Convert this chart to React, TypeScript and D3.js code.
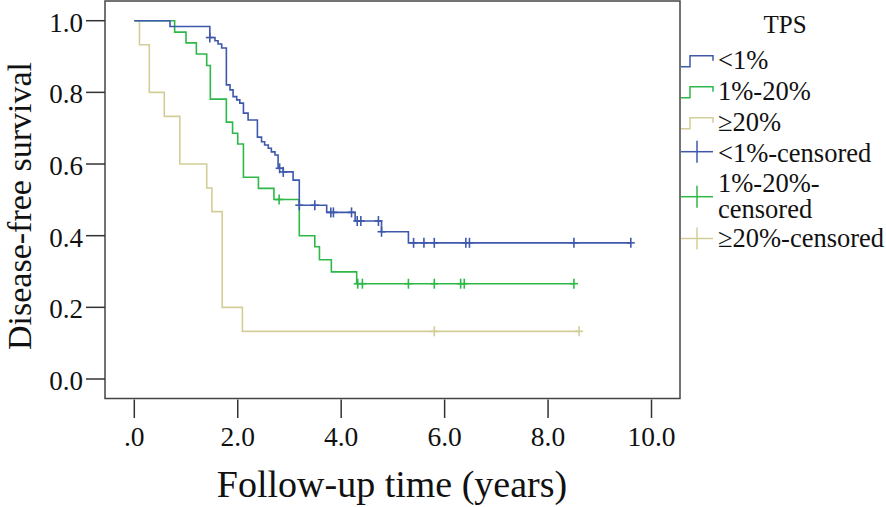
import React from "react";
import * as d3 from "d3";

const W = 886;
const H = 507;

// Kaplan-Meier steps: [time (years), survival after event]
const blueSteps: [number, number][] = [
  [0.69, 0.984], [1.46, 0.953], [1.56, 0.944], [1.62, 0.935], [1.69, 0.924],
  [1.78, 0.821], [1.85, 0.807], [1.91, 0.788], [1.98, 0.779], [2.04, 0.77],
  [2.11, 0.742], [2.2, 0.723], [2.38, 0.675], [2.46, 0.662], [2.52, 0.653],
  [2.59, 0.644], [2.65, 0.634], [2.72, 0.625], [2.78, 0.588], [2.88, 0.578],
  [3.07, 0.555], [3.19, 0.485], [3.72, 0.465], [4.27, 0.441], [4.78, 0.411],
  [5.3, 0.38],
];
const blueEnd = 9.6;
const blueCensored = [1.46, 2.81, 2.88, 3.19, 3.49, 3.8, 3.85, 4.2, 4.31, 4.38, 4.72, 4.78, 5.4, 5.6, 5.8, 6.41, 6.48, 8.5, 9.6];

const greenSteps: [number, number][] = [
  [0.78, 0.968], [1.0, 0.938], [1.2, 0.907], [1.4, 0.875], [1.47, 0.781],
  [1.78, 0.717], [1.9, 0.686], [2.0, 0.656], [2.11, 0.563], [2.4, 0.532],
  [2.7, 0.501], [3.19, 0.4], [3.49, 0.369], [3.58, 0.333], [3.81, 0.299],
  [4.3, 0.266],
];
const greenEnd = 8.5;
const greenCensored = [2.8, 4.32, 4.41, 5.3, 5.8, 6.31, 6.38, 8.5];

const yellowSteps: [number, number][] = [
  [0.1, 0.933], [0.29, 0.8], [0.58, 0.733], [0.88, 0.6], [1.4, 0.533],
  [1.5, 0.467], [1.7, 0.2], [2.09, 0.133],
];
const yellowEnd = 8.6;
const yellowCensored = [5.8, 8.6];

const xTicks = [0, 2, 4, 6, 8, 10];
const xTickLabels = [".0", "2.0", "4.0", "6.0", "8.0", "10.0"];
const yTicks = [0, 0.2, 0.4, 0.6, 0.8, 1.0];
const yTickLabels = ["0.0", "0.2", "0.4", "0.6", "0.8", "1.0"];

const legendTitle = "TPS";
const legendLabels = ["<1%", "1%-20%", "≥20%", "<1%-censored", "1%-20%-censored", "≥20%-censored"];

const BLUE = "#3e58ac";
const GREEN = "#2eb848";
const TAN = "#d3ce97";
const FONT = "'Liberation Serif', 'Times New Roman', serif";

export default function App() {
  const x = d3.scaleLinear().domain([0, 10]).range([134.3, 651.5]);
  const y = d3.scaleLinear().domain([0, 1]).range([379, 20.7]);

  const frame = { left: 105, top: 1, right: 680, bottom: 398.5 };

  const line = d3
    .line<[number, number]>()
    .x((d) => x(d[0]))
    .y((d) => y(d[1]))
    .curve(d3.curveStepAfter);

  const series = [
    { steps: blueSteps, end: blueEnd, cens: blueCensored, color: BLUE },
    { steps: greenSteps, end: greenEnd, cens: greenCensored, color: GREEN },
    { steps: yellowSteps, end: yellowEnd, cens: yellowCensored, color: TAN },
  ];

  const survAt = (steps: [number, number][], t: number) => {
    let s = 1;
    for (const [tt, ss] of steps) if (tt <= t + 1e-9) s = ss;
    return s;
  };

  const drawOrder = [2, 1, 0];
  const LFS = 26.5;

  return (
    <svg
      width={W}
      height={H}
      style={{ position: "absolute", left: 0, top: 0, background: "#fff" }}
      fontFamily={FONT}
    >
      <rect x={0} y={0} width={W} height={H} fill="#fff" />
      <rect
        x={frame.left}
        y={frame.top}
        width={frame.right - frame.left}
        height={frame.bottom - frame.top}
        fill="#fff"
        stroke="#444"
        strokeWidth={1.5}
      />
      {yTicks.map((v, i) => (
        <g key={"y" + i}>
          <line x1={86} x2={frame.left} y1={y(v)} y2={y(v)} stroke="#333" strokeWidth={1.5} />
          <text x={83} y={y(v) + 11} fontSize={27} textAnchor="end" fill="#111">
            {yTickLabels[i]}
          </text>
        </g>
      ))}
      {xTicks.map((v, i) => (
        <g key={"x" + i}>
          <line x1={x(v)} x2={x(v)} y1={frame.bottom + 1} y2={418} stroke="#333" strokeWidth={1.5} />
          <text x={x(v)} y={446} fontSize={27.5} textAnchor="middle" fill="#111">
            {xTickLabels[i]}
          </text>
        </g>
      ))}
      <text x={392} y={497} fontSize={38} textAnchor="middle" fill="#111">
        Follow-up time (years)
      </text>
      <text
        transform={`translate(31,206) rotate(-90)`}
        fontSize={34}
        textAnchor="middle"
        fill="#111"
      >
        Disease-free survival
      </text>
      {drawOrder.map((k) => {
        const s = series[k];
        const last = s.steps[s.steps.length - 1][1];
        const pts: [number, number][] = [[0, 1], ...s.steps, [s.end, last]];
        return (
          <g key={"s" + k}>
            <path d={line(pts) || ""} fill="none" stroke={s.color} strokeWidth={1.6} />
            {s.cens.map((t, j) => {
              const cx = x(t);
              const cy = y(survAt(s.steps, t));
              return (
                <g key={j} stroke={s.color} strokeWidth={1.6}>
                  <line x1={cx - 4} x2={cx + 4} y1={cy} y2={cy} />
                  <line x1={cx} x2={cx} y1={cy - 5} y2={cy + 5} />
                </g>
              );
            })}
          </g>
        );
      })}
      <text x={785} y={33} fontSize={25} textAnchor="middle" fill="#111">
        {legendTitle}
      </text>
      {[BLUE, GREEN, TAN].map((c, i) => {
        const low = 66.7 + i * 31;
        const high = low - 11;
        return (
          <g key={"ls" + i}>
            <path
              d={`M681,${low} H690 V${high} H713 V${high + 5}`}
              fill="none"
              stroke={c}
              strokeWidth={1.5}
            />
            <text x={718} y={low + 2} fontSize={LFS} fill="#111">
              {legendLabels[i]}
            </text>
          </g>
        );
      })}
      {[BLUE, GREEN, TAN].map((c, i) => {
        const cy = [151.7, 196.7, 238.5][i];
        return (
          <g key={"lc" + i} stroke={c} strokeWidth={1.5}>
            <line x1={681} x2={713} y1={cy} y2={cy} />
            <line x1={697} x2={697} y1={cy - 11} y2={cy + 11} />
          </g>
        );
      })}
      <text x={718} y={162} fontSize={LFS} fill="#111">
        {legendLabels[3]}
      </text>
      <text x={718} y={192} fontSize={LFS} fill="#111">
        1%-20%-
      </text>
      <text x={718} y={218} fontSize={LFS} fill="#111">
        censored
      </text>
      <text x={718} y={247} fontSize={LFS} fill="#111">
        {legendLabels[5]}
      </text>
    </svg>
  );
}
